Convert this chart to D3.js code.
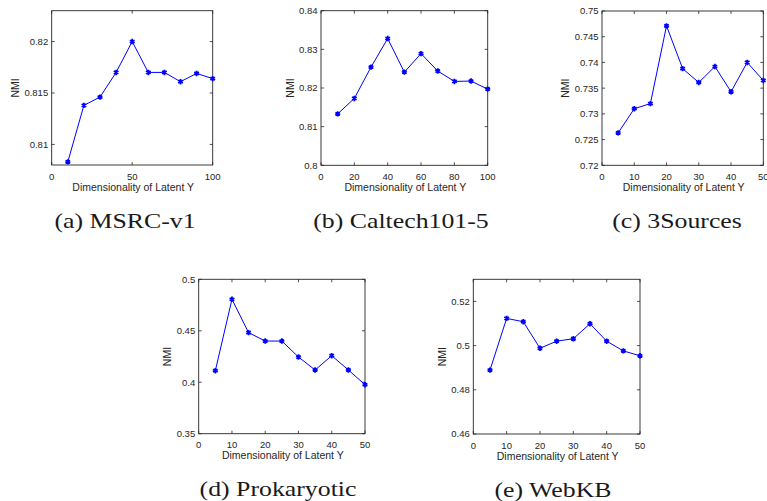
<!DOCTYPE html>
<html>
<head>
<meta charset="utf-8">
<script src="https://cdn.jsdelivr.net/npm/d3@7"></script>
<style>
  html, body { margin: 0; padding: 0; background: #fff; }
  svg { display: block; }
  .tick-label { font-family: "Liberation Sans", Arial, sans-serif; font-size: 9.5px; fill: #262626; }
  .axis-title { font-family: "Liberation Sans", Arial, sans-serif; font-size: 10.5px; fill: #262626; }
  .caption { font-family: "Liberation Serif", "Times New Roman", serif; font-size: 21.5px; fill: #1a1a1a; }
</style>
</head>
<body>
<svg id="fig" width="767" height="501"></svg>
<script>
// NMI versus dimensionality of the latent representation, one panel per dataset
const dimsA = [10, 20, 30, 40, 50, 60, 70, 80, 90, 100];
const nmiMSRC = [0.8083, 0.8138, 0.8146, 0.8170, 0.8200, 0.8170, 0.8170, 0.8161, 0.8169, 0.8164];
const nmiCaltech = [0.8133, 0.8173, 0.8254, 0.8328, 0.8241, 0.8289, 0.8244, 0.8217, 0.8218, 0.8197];

const dimsB = [5, 10, 15, 20, 25, 30, 35, 40, 45, 50];
const nmi3Sources = [0.7263, 0.7310, 0.7320, 0.7471, 0.7388, 0.7361, 0.7392, 0.7343, 0.7400, 0.7365];
const nmiProkaryotic = [0.4112, 0.4806, 0.4482, 0.4400, 0.4400, 0.4245, 0.4119, 0.4258, 0.4119, 0.3976];
const nmiWebKB = [0.4889, 0.5123, 0.5108, 0.4988, 0.5020, 0.5031, 0.5099, 0.5020, 0.4976, 0.4954];

const xTicks100 = [0, 20, 40, 60, 80, 100];
const xTicks100Sparse = [0, 50, 100];
const xTicks50 = [0, 10, 20, 30, 40, 50];

const yTicksMSRC = ["0.81", "0.815", "0.82"];
const yTicksCaltech = ["0.8", "0.81", "0.82", "0.83", "0.84"];
const yTicks3Sources = ["0.72", "0.725", "0.73", "0.735", "0.74", "0.745", "0.75"];
const yTicksProkaryotic = ["0.35", "0.4", "0.45", "0.5"];
const yTicksWebKB = ["0.46", "0.48", "0.5", "0.52"];

const captions = ["(a) MSRC-v1", "(b) Caltech101-5", "(c) 3Sources", "(d) Prokaryotic", "(e) WebKB"];

const panels = [
  { x: dimsA, y: nmiMSRC, xDom: [0, 100], yDom: [0.808, 0.823], xt: xTicks100Sparse, yt: yTicksMSRC,
    box: [51.7, 10.7, 212.7, 165], cap: captions[0], capX: 125 },
  { x: dimsA, y: nmiCaltech, xDom: [0, 100], yDom: [0.8, 0.84], xt: xTicks100, yt: yTicksCaltech,
    box: [321, 10.7, 487.7, 165.3], cap: captions[1], capX: 401 },
  { x: dimsB, y: nmi3Sources, xDom: [0, 50], yDom: [0.72, 0.75], xt: xTicks50, yt: yTicks3Sources,
    box: [602, 11, 763.3, 165.3], cap: captions[2], capX: 677 },
  { x: dimsB, y: nmiProkaryotic, xDom: [0, 50], yDom: [0.35, 0.5], xt: xTicks50, yt: yTicksProkaryotic,
    box: [198.7, 279.3, 365, 433.7], cap: captions[3], capX: 278 },
  { x: dimsB, y: nmiWebKB, xDom: [0, 50], yDom: [0.46, 0.53], xt: xTicks50, yt: yTicksWebKB,
    box: [473.3, 279.3, 640, 434], cap: captions[4], capX: 553 }
];

const svg = d3.select("#fig");
const axisColor = "#262626";
const tickLen = 3;

panels.forEach(p => {
  const [x0, y0, x1, y1] = p.box;
  const xs = d3.scaleLinear().domain(p.xDom).range([x0, x1]);
  const ys = d3.scaleLinear().domain(p.yDom).range([y1, y0]);
  const g = svg.append("g");

  // inward ticks on all four sides
  p.xt.forEach(v => {
    const xv = xs(v);
    g.append("line").attr("x1", xv).attr("x2", xv).attr("y1", y1).attr("y2", y1 - tickLen)
      .attr("stroke", axisColor).attr("stroke-width", 0.8);
    g.append("line").attr("x1", xv).attr("x2", xv).attr("y1", y0).attr("y2", y0 + tickLen)
      .attr("stroke", axisColor).attr("stroke-width", 0.8);
    g.append("text").attr("class", "tick-label").attr("x", xv).attr("y", y1 + 14.6)
      .attr("text-anchor", "middle").text(v);
  });

  let minLeft = x0;
  p.yt.forEach(lbl => {
    const yv = ys(+lbl);
    g.append("line").attr("x1", x0).attr("x2", x0 + tickLen).attr("y1", yv).attr("y2", yv)
      .attr("stroke", axisColor).attr("stroke-width", 0.8);
    g.append("line").attr("x1", x1).attr("x2", x1 - tickLen).attr("y1", yv).attr("y2", yv)
      .attr("stroke", axisColor).attr("stroke-width", 0.8);
    const t = g.append("text").attr("class", "tick-label").attr("x", x0 - 3.5).attr("y", yv + 3.4)
      .attr("text-anchor", "end").text(lbl);
    minLeft = Math.min(minLeft, x0 - 3.5 - t.node().getComputedTextLength());
  });

  // frame
  g.append("rect").attr("x", x0).attr("y", y0).attr("width", x1 - x0).attr("height", y1 - y0)
    .attr("fill", "none").attr("stroke", axisColor).attr("stroke-width", 0.9);

  // series
  const pts = p.x.map((d, i) => [d, p.y[i]]);
  g.append("path").datum(pts)
    .attr("d", d3.line().x(d => xs(d[0])).y(d => ys(d[1])))
    .attr("fill", "none").attr("stroke", "#0000ff").attr("stroke-width", 1);
  const star = d3.symbol(d3.symbolAsterisk, 20);
  g.selectAll(".mk").data(pts).join("path")
    .attr("transform", d => `translate(${xs(d[0])},${ys(d[1])})`)
    .attr("d", star).attr("fill", "none").attr("stroke", "#0000ff").attr("stroke-width", 1.8);

  // axis titles
  g.append("text").attr("class", "axis-title").attr("x", (x0 + x1) / 2 + 1).attr("y", y1 + 25.6)
    .attr("text-anchor", "middle").text("Dimensionality of Latent Y");
  const ly = (y0 + y1) / 2;
  const lx = minLeft - 5.5;
  g.append("text").attr("class", "axis-title").attr("transform", `translate(${lx},${ly}) rotate(-90)`)
    .attr("text-anchor", "middle").text("NMI");

  // subfigure caption
  g.append("text").attr("class", "caption")
    .attr("transform", `translate(${p.capX},${y1 + 62.5}) scale(1.2,1)`)
    .attr("text-anchor", "middle").text(p.cap);
});
</script>
</body>
</html>
